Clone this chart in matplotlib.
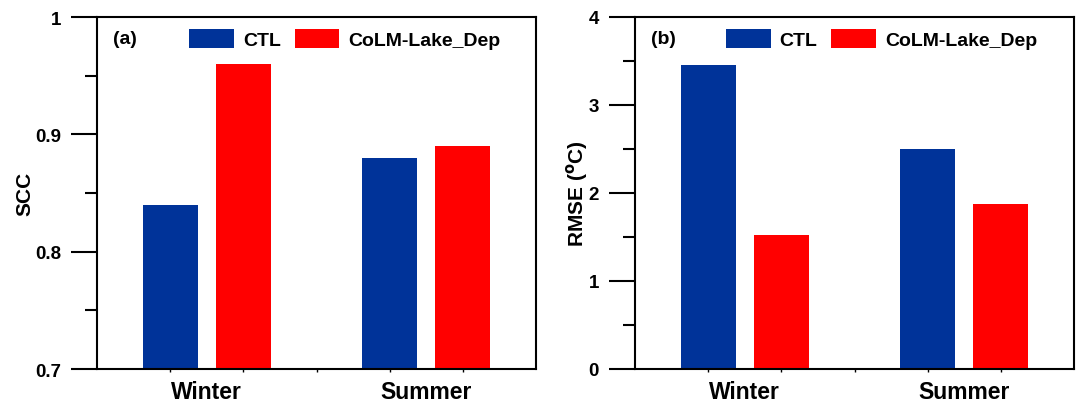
import numpy as np
import matplotlib
matplotlib.use('Agg')
import matplotlib.pyplot as plt

plt.rcParams['font.family'] = ['Liberation Sans', 'DejaVu Sans']
plt.rcParams['font.weight'] = 'bold'

seasons = ['Winter', 'Summer']
runs = ['CTL', 'CoLM-Lake_Dep']
colors = ['#003399', '#ff0000']

scc = {'CTL': [0.84, 0.88], 'CoLM-Lake_Dep': [0.96, 0.89]}
rmse = {'CTL': [3.45, 2.50], 'CoLM-Lake_Dep': [1.52, 1.88]}

fig = plt.figure(figsize=(10.81, 4.06), dpi=100)
W, H = 1081.0, 406.0
ax1 = fig.add_axes([97 / W, 1 - 370 / H, 439 / W, 352 / H])
ax2 = fig.add_axes([635 / W, 1 - 370 / H, 439 / W, 352 / H])

x = np.arange(1, len(seasons) + 1)
off = 0.167
bw = 0.25


def panel(ax, data, ylim, major, minor, ylabel, tag, lab_x, leg_x):
    for i, r in enumerate(runs):
        ax.bar(x + (i * 2 - 1) * off, data[r], bw, color=colors[i], label=r)
    ax.set_xlim(0.5, 2.5)
    ax.set_ylim(*ylim)
    ax.set_yticks(major)
    ax.set_yticks(minor, minor=True)
    ax.set_xticks(x)
    ax.set_xticklabels(seasons, fontsize=16.5, fontweight='bold')
    ax.set_xticks([0.833, 1.167, 1.5, 1.833, 2.167], minor=True)
    ax.tick_params(axis='x', which='major', length=0, pad=8)
    ax.tick_params(axis='x', which='minor', length=2, width=1, direction='out')
    ax.tick_params(axis='y', which='major', length=19, width=1.5, pad=7,
                   labelsize=13.5, direction='out')
    ax.tick_params(axis='y', which='minor', length=9, width=1.5, direction='out')
    for lbl in ax.get_yticklabels():
        lbl.set_fontweight('bold')
    for s in ax.spines.values():
        s.set_linewidth(1.5)
    ax.set_ylabel(ylabel, fontsize=15, fontweight='bold')
    ax.yaxis.set_label_coords(lab_x, 0.5)
    ax.text(0.036, 0.9375, tag, transform=ax.transAxes, fontsize=14,
            fontweight='bold', va='center', ha='left')
    ax.legend(loc='center left', bbox_to_anchor=(leg_x, 0.9375), ncol=2,
              frameon=False, handlelength=2.3, handleheight=1.13,
              handletextpad=0.46, columnspacing=0.72, borderpad=0,
              borderaxespad=0, prop={'weight': 'bold', 'size': 14})


panel(ax1, scc, (0.7, 1.0), [0.7, 0.8, 0.9, 1.0], [0.75, 0.85, 0.95],
      'SCC', '(a)', -0.1435, 0.21)
ax1.set_yticklabels(['0.7', '0.8', '0.9', '1'])
panel(ax2, rmse, (0, 4), [0, 1, 2, 3, 4], [0.5, 1.5, 2.5, 3.5],
      r'RMSE ($\mathbf{^{o}}$C)', '(b)', -0.102, 0.207)

fig.savefig('out.png', dpi=100)
